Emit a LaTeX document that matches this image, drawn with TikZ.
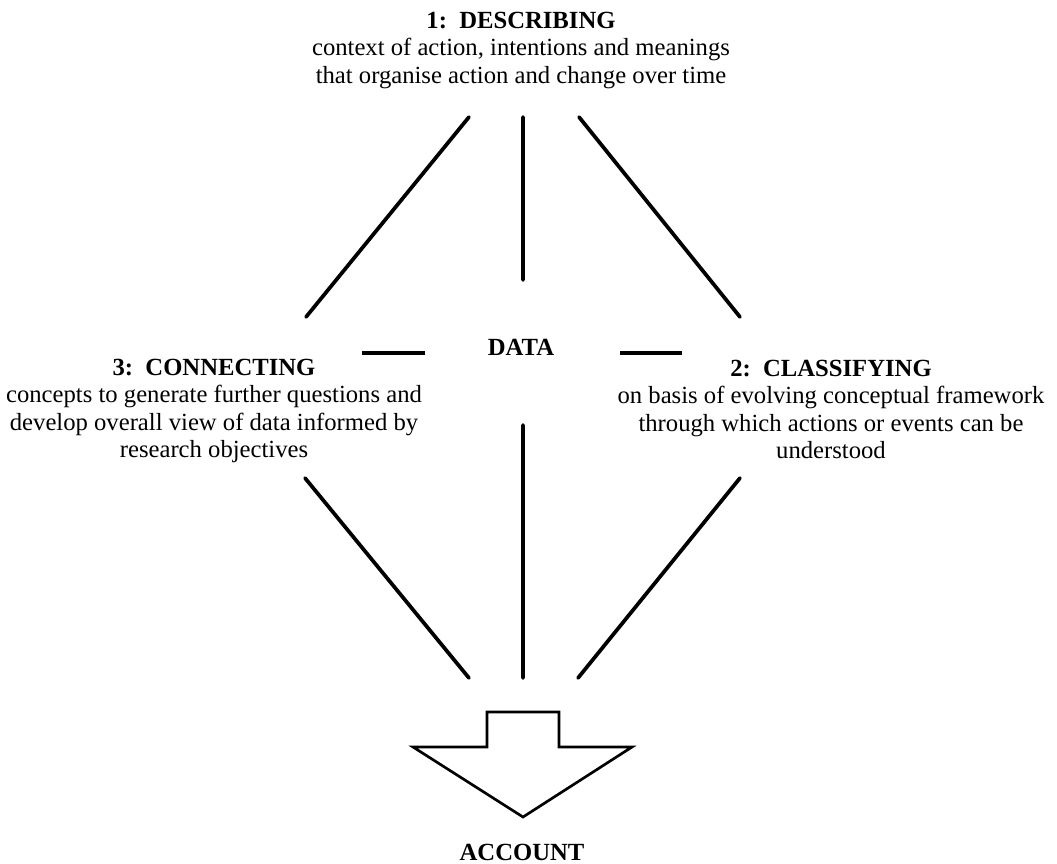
\documentclass[tikz,border=0pt]{standalone}
\usepackage{fontspec}
\setmainfont{Liberation Serif}
\begin{document}
\begin{tikzpicture}[x=0.75pt,y=-0.75pt,line join=round,line cap=round,font=\fontsize{18.5}{20.5}\selectfont]
			\tikzset{every node/.style={inner sep=0pt,align=center}}
			\tikzset{spoke/.style={line width=2.8pt},bar/.style={line width=2.5pt,line cap=butt}}
			\useasboundingbox (0,0) rectangle (1057,864);
			% the three stages, data and account
			\node[anchor=north] (desc) at (521,12) {\textbf{1:\ \ DESCRIBING}\\context of action, intentions and meanings\\that organise action and change over time};
			\node[anchor=north] (conn) at (214,359) {\textbf{3:\ \ CONNECTING}\\concepts to generate further questions and\\develop overall view of data informed by\\research objectives};
			\node[anchor=north] (clas) at (831,360) {\textbf{2:\ \ CLASSIFYING}\\on basis of evolving conceptual framework\\through which actions or events can be\\understood};
			\node[anchor=base] (data) at (521,355) {\textbf{DATA}};
			\node[anchor=base] (acc) at (522,860) {\textbf{ACCOUNT}};
			% spoke ends
			\coordinate (tl1) at (469,117); \coordinate (tl2) at (306,317);
			\coordinate (tc1) at (523,117); \coordinate (tc2) at (523,280);
			\coordinate (tr1) at (579,117); \coordinate (tr2) at (740,317);
			\coordinate (bl1) at (305,478); \coordinate (bl2) at (469,678);
			\coordinate (bc1) at (523,425); \coordinate (bc2) at (523,678);
			\coordinate (br1) at (740,478); \coordinate (br2) at (578,678);
			\coordinate (hl1) at (362,353); \coordinate (hl2) at (425,353);
			\coordinate (hr1) at (620,353); \coordinate (hr2) at (682,353);
			\draw[spoke] (tl1)--(tl2) (tc1)--(tc2) (tr1)--(tr2);
			\draw[spoke] (bl1)--(bl2) (bc1)--(bc2) (br1)--(br2);
			\draw[bar] (hl1)--(hl2) (hr1)--(hr2);
			% block arrow
			\draw[line width=2pt,line join=miter] (487,747)--(487,712)--(559,712)--(559,747)--(632,747)--(523,817)--(413,747)--cycle;
		\end{tikzpicture}
\end{document}
